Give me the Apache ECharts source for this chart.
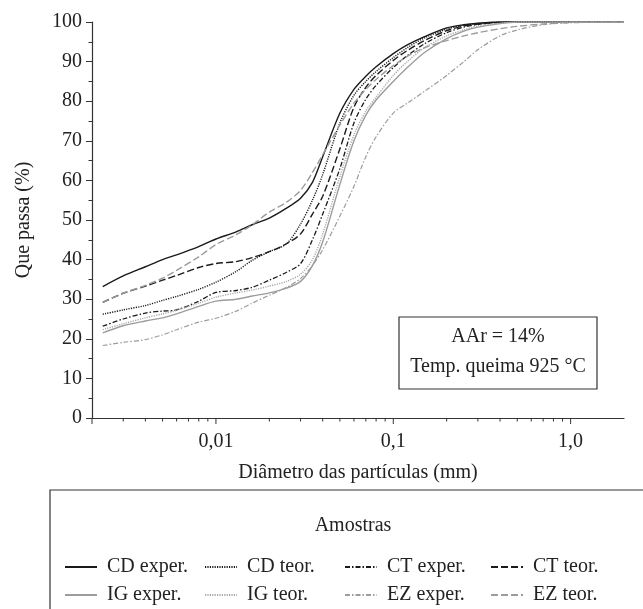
<!DOCTYPE html>
<html>
<head>
<meta charset="utf-8">
<script src="https://cdn.jsdelivr.net/npm/echarts@6/dist/echarts.min.js"></script>
<style>html,body{margin:0;padding:0;background:#fff}#c{width:643px;height:609px}</style>
</head>
<body>
<div id="c"></div>
<script>
// Particle diameters (mm)
const diameters = [0.0023, 0.003, 0.004, 0.005, 0.006, 0.008, 0.01, 0.013, 0.016, 0.02, 0.025, 0.03, 0.035, 0.04, 0.05, 0.06, 0.07, 0.08, 0.1, 0.12, 0.15, 0.2, 0.25, 0.3, 0.4, 0.5, 0.7, 1.0, 2.0];

// Percent passing
const cdExper = [33.2, 35.9, 38.2, 40.0, 41.2, 43.3, 45.2, 47.0, 48.8, 50.5, 53.0, 55.5, 59.5, 66.0, 77.0, 83.0, 86.3, 88.7, 92.0, 94.2, 96.3, 98.5, 99.3, 99.7, 100, 100, 100, 100, 100];
const cdTeor  = [26.2, 27.3, 28.4, 29.7, 30.7, 32.5, 34.3, 37.0, 39.8, 42.0, 44.0, 49.0, 55.0, 61.5, 74.5, 81.5, 85.0, 87.5, 91.0, 93.5, 96.0, 98.2, 99.2, 99.6, 100, 100, 100, 100, 100];
const ctExper = [23.2, 25.0, 26.5, 27.0, 27.3, 29.5, 31.7, 32.2, 33.0, 34.8, 36.8, 39.0, 45.0, 51.5, 63.0, 74.5, 80.5, 84.0, 88.5, 91.5, 94.5, 97.3, 98.7, 99.4, 99.9, 100, 100, 100, 100];
const ctTeor  = [29.2, 31.5, 33.3, 34.8, 36.0, 38.0, 39.0, 39.5, 40.5, 42.0, 44.0, 46.5, 51.5, 56.0, 68.0, 78.5, 83.5, 86.5, 90.3, 92.8, 95.3, 97.8, 99.0, 99.5, 99.9, 100, 100, 100, 100];
const igExper = [21.5, 23.3, 24.5, 25.3, 26.3, 28.2, 29.5, 30.0, 30.8, 31.6, 32.8, 34.5, 38.5, 44.5, 59.0, 70.0, 76.5, 80.3, 85.0, 88.5, 92.3, 95.8, 97.7, 98.7, 99.6, 100, 100, 100, 100];
const igTeor  = [22.3, 23.8, 25.3, 26.3, 27.2, 29.0, 30.5, 31.6, 32.3, 33.3, 34.5, 36.3, 40.0, 46.5, 61.0, 71.5, 77.5, 81.0, 86.5, 90.0, 93.5, 96.5, 98.0, 99.0, 99.7, 100, 100, 100, 100];
const ezExper = [18.3, 19.1, 19.8, 21.0, 22.3, 24.2, 25.2, 27.0, 29.0, 31.0, 33.0, 35.2, 38.5, 42.5, 51.0, 58.5, 66.0, 71.0, 77.0, 79.5, 82.5, 86.5, 90.0, 93.0, 96.5, 98.0, 99.3, 99.8, 100];
const ezTeor  = [29.2, 31.5, 33.5, 35.3, 37.3, 40.7, 43.8, 46.3, 48.8, 52.0, 54.5, 57.5, 62.0, 66.5, 74.0, 79.5, 83.0, 85.5, 89.0, 91.3, 93.5, 95.3, 96.5, 97.3, 98.3, 98.9, 99.5, 99.9, 100];

const seriesNames = ['CD exper.', 'CD teor.', 'CT exper.', 'CT teor.', 'IG exper.', 'IG teor.', 'EZ exper.', 'EZ teor.'];
const seriesValues = [cdExper, cdTeor, ctExper, ctTeor, igExper, igTeor, ezExper, ezTeor];

// Axis ticks / labels
const xMajorTicks = [0.002, 0.01, 0.1, 1];
const xMinorTicks = [0.003, 0.004, 0.005, 0.006, 0.007, 0.008, 0.009, 0.02, 0.03, 0.04, 0.05, 0.06, 0.07, 0.08, 0.09, 0.2, 0.3, 0.4, 0.5, 0.6, 0.7, 0.8, 0.9];
const xLabelValues = [0.01, 0.1, 1];
const xLabelTexts = ['0,01', '0,1', '1,0'];

const FONT = 'Liberation Serif';
const FS = 20;
const BLACK = '#1a1a1a';
const GRAY = '#9c9c9c';
const styles = [
  {color: BLACK, type: 'solid', width: 1.4},
  {color: BLACK, type: [1.2, 1.2], width: 1.4},
  {color: BLACK, type: [5, 2, 1.5, 2], width: 1.3},
  {color: BLACK, type: [7, 3], width: 1.4},
  {color: GRAY, type: 'solid', width: 1.4},
  {color: '#a8a8a8', type: [1.2, 1.2], width: 1.4},
  {color: GRAY, type: [5, 2, 1.5, 2], width: 1.2},
  {color: GRAY, type: [7, 3], width: 1.4}
];

const lineSeries = seriesNames.map((n, i) => ({
  name: n,
  type: 'line',
  data: diameters.map((d, j) => [d, seriesValues[i][j]]),
  showSymbol: false,
  symbol: 'none',
  smooth: 0.3,
  lineStyle: styles[i],
  itemStyle: {color: styles[i].color},
  z: 3
}));

const tickData = xMajorTicks.map(v => [v, 0, 1]).concat(xMinorTicks.map(v => [v, 0, 0]));
const tickSeries = {
  type: 'custom',
  data: tickData,
  silent: true,
  clip: false,
  renderItem: function (params, api) {
    const p = api.coord([api.value(0), 0]);
    const len = api.value(2) ? 6 : 3.5;
    return {
      type: 'line',
      shape: {x1: p[0], y1: p[1], x2: p[0], y2: p[1] + len},
      style: {stroke: '#333', lineWidth: 1}
    };
  },
  z: 4
};

// legend grid: column left edges and row tops
const legendLefts = [64, 204, 344, 490];
const legendTops = [557, 585];
const legendLayout = [
  ['CD exper.', 'CD teor.', 'CT exper.', 'CT teor.'],
  ['IG exper.', 'IG teor.', 'EZ exper.', 'EZ teor.']
];
const legends = [];
legendLayout.forEach((row, r) => row.forEach((name, c) => {
  legends.push({
    data: [name],
    left: legendLefts[c],
    top: legendTops[r],
    padding: 0,
    itemWidth: 32,
    itemHeight: 14,
    itemStyle: {opacity: 0},
    textStyle: {fontFamily: FONT, fontSize: FS, color: '#222', padding: [0, 0, 0, 5]},
    selectedMode: false
  });
}));

const chart = echarts.init(document.getElementById('c'), null, {renderer: 'canvas'});
chart.setOption({
  animation: false,
  backgroundColor: '#fff',
  textStyle: {fontFamily: FONT},
  grid: {left: 92, right: 19, top: 22, bottom: 191, containLabel: false},
  title: {
    text: 'Amostras', left: 348, top: 511, textAlign: 'center',
    textStyle: {fontFamily: FONT, fontSize: FS, fontWeight: 'normal', color: '#222'}
  },
  legend: legends,
  xAxis: {
    type: 'log',
    logBase: 10,
    min: 0.002,
    max: 2,
    name: 'Diâmetro das partículas (mm)',
    nameLocation: 'middle',
    nameGap: 45,
    nameTextStyle: {fontFamily: FONT, fontSize: FS, color: '#222'},
    axisLine: {lineStyle: {color: '#333', width: 1.2}},
    axisTick: {show: false},
    splitLine: {show: false},
    axisLabel: {
      fontFamily: FONT, fontSize: FS, color: '#222', margin: 14,
      formatter: function (v) {
        for (let i = 0; i < xLabelValues.length; i++) {
          if (Math.abs(Math.log10(v) - Math.log10(xLabelValues[i])) < 1e-6) return xLabelTexts[i];
        }
        return '';
      }
    }
  },
  yAxis: {
    type: 'value',
    min: 0,
    max: 100,
    interval: 10,
    name: 'Que passa (%)',
    nameLocation: 'middle',
    nameGap: 58,
    nameTextStyle: {fontFamily: FONT, fontSize: FS, color: '#222'},
    axisLine: {show: true, lineStyle: {color: '#333', width: 1.2}},
    axisTick: {show: true, inside: false, length: 6, lineStyle: {color: '#333'}},
    minorTick: {show: true, splitNumber: 2, length: 3.5, lineStyle: {color: '#333'}},
    splitLine: {show: false},
    axisLabel: {fontFamily: FONT, fontSize: FS, color: '#222', margin: 10}
  },
  graphic: [
    {
      type: 'rect', x: 399, y: 317,
      shape: {x: 0, y: 0, width: 198, height: 72},
      style: {fill: '#fff', stroke: '#333', lineWidth: 1.2}, z: 10
    },
    {
      type: 'text', x: 498, y: 337,
      style: {text: 'AAr = 14%', font: FS + 'px "Liberation Serif"', fill: '#222', align: 'center', verticalAlign: 'middle'},
      z: 11
    },
    {
      type: 'text', x: 498, y: 367,
      style: {text: 'Temp. queima 925 °C', font: FS + 'px "Liberation Serif"', fill: '#222', align: 'center', verticalAlign: 'middle'},
      z: 11
    },
    {
      type: 'rect', x: 50, y: 490,
      shape: {x: 0, y: 0, width: 640, height: 160},
      style: {fill: 'none', stroke: '#333', lineWidth: 1.2}, z: 1
    }
  ],
  series: lineSeries.concat([tickSeries])
});
</script>
</body>
</html>
